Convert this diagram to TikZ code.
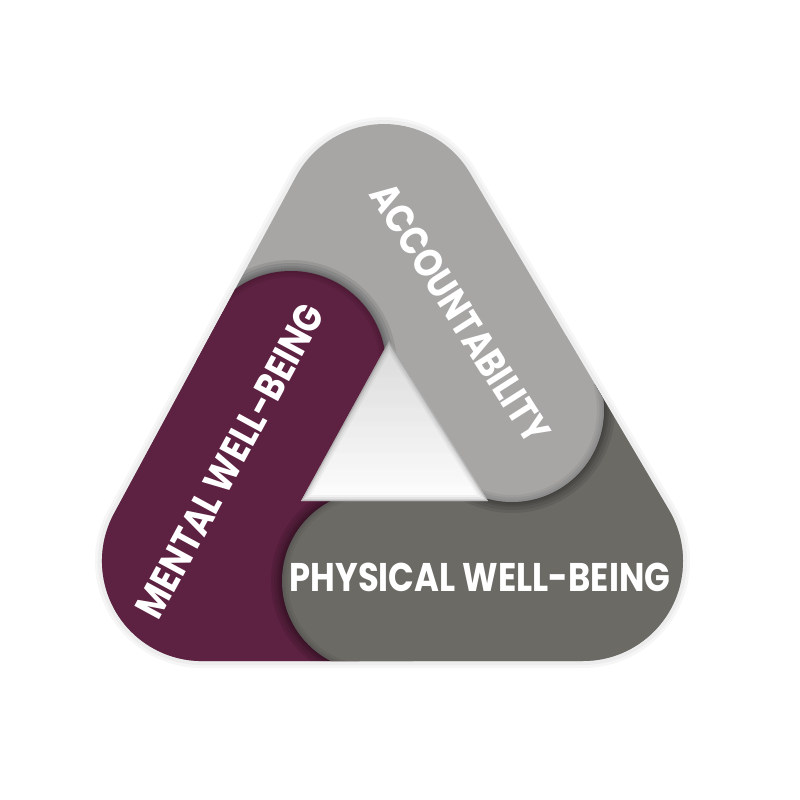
\documentclass[tikz,border=0pt]{standalone}
\usepackage{fontspec}
\newfontfamily\lblfont[FakeStretch=0.845]{Poppins}
\definecolor{maroon}{RGB}{93,33,65}
\definecolor{lgray}{RGB}{167,166,165}
\definecolor{dgray}{RGB}{107,106,101}
\definecolor{shade}{RGB}{40,48,60}
\tikzset{
  lbl/.style={text=white, inner sep=0pt, font=\lblfont\bfseries\fontsize{40}{40}\selectfont},
  capshadow/.style={fill=black, opacity=0.085},
  bevel/.style={draw=black, opacity=0.05},
}
\def\silhouette{(202,661) -- (583,661) arc[start angle=90,end angle=-30.56,radius=100] -- (470.1,173.2) arc[start angle=-30.56,end angle=-151.6,radius=100] -- (114,513.5) arc[start angle=-151.6,end angle=-270,radius=100] -- cycle}
\def\holepath{(389,341) -- (301,501) -- (488,501) -- cycle}
\def\marsec{(393,448) -- (-117,38) -- (-400,600) -- (-100,1200) -- (288,1113) -- cycle}
\def\dgsec{(393,448) -- (288,1113) -- (1200,1200) -- (993,258) -- cycle}
\def\lgsec{(393,448) -- (993,258) -- (1000,-400) -- (-400,-400) -- (-117,38) -- cycle}
\begin{document}
\begin{tikzpicture}[x=1pt,y=-1pt]
\useasboundingbox (0,0) rectangle (800,800);
\fill[white] (0,0) rectangle (800,800);
\coordinate (Mc) at (291,366);
\coordinate (Dc) at (372,581);
\coordinate (Lc) at (512,410);
% faint outer shadow
\foreach \w in {14,8}
  \draw[line width=\w, black, opacity=0.035, line join=round] \silhouette;
\begin{scope}
  \clip \silhouette;
  \fill[lgray] (0,0) rectangle (800,800);
  \fill[maroon] \marsec;
  \fill[dgray] \dgsec;
  % shadows of the caps on the band below
  \begin{scope}
    \clip \lgsec;
    \foreach \k in {11,8,5,3,1} \fill[capshadow] (Mc) circle[radius=95+\k];
  \end{scope}
  \begin{scope}
    \clip \dgsec;
    \foreach \k in {11,8,5,3,1} \fill[capshadow] (Lc) circle[radius=92+\k];
  \end{scope}
  \begin{scope}
    \clip \marsec;
    \foreach \k in {11,8,5,3,1} \fill[capshadow] (Dc) circle[radius=90+\k];
  \end{scope}
  % caps
  \fill[maroon] (Mc) circle[radius=95];
  \fill[lgray] (Lc) circle[radius=92];
  \fill[dgray] (Dc) circle[radius=90];
  % soft rim inside the caps
  \begin{scope}
    \clip \lgsec; \clip (Mc) circle[radius=95];
    \foreach \w in {12,7,3} \draw[bevel, line width=\w] (Mc) circle[radius=95];
  \end{scope}
  \begin{scope}
    \clip \dgsec; \clip (Lc) circle[radius=92];
    \foreach \w in {14,9,4} \draw[bevel, line width=\w] (Lc) circle[radius=92];
  \end{scope}
  \begin{scope}
    \clip \marsec; \clip (Dc) circle[radius=90];
    \foreach \w in {12,7,3} \draw[bevel, line width=\w] (Dc) circle[radius=90];
  \end{scope}
  % hole with soft inner shadow
  \fill[white] \holepath;
  \begin{scope}
    \clip \holepath;
    \foreach \w/\o in {12/0.05,8/0.07,4/0.09,2/0.1}
      \draw[line width=\w, shade, opacity=\o, line join=round] \holepath;
  \end{scope}
\end{scope}
\node[lbl, rotate=-57.5] (acc) at (460,313) {ACCOUNTABILITY};
\node[lbl, rotate=61.5] (mwb) at (230,461) {MENTAL WELL-BEING};
\node[lbl] (pwb) at (480,577) {PHYSICAL WELL-BEING};
\end{tikzpicture}
\end{document}
